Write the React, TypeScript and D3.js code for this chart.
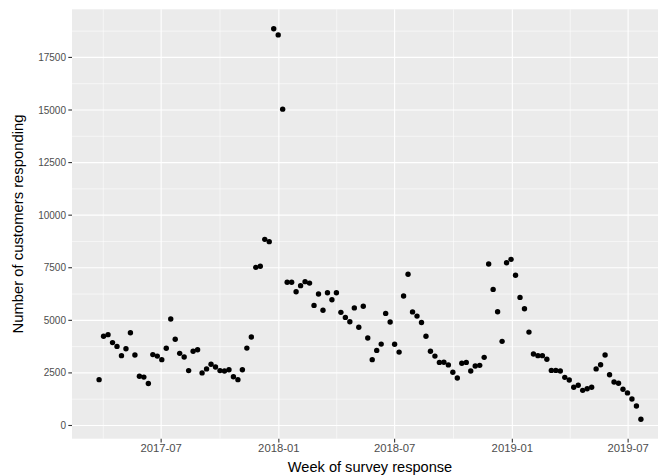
import React from "react";
import * as d3 from "d3";

const firstWeek = "2017-03-26";
const lastWeek = "2019-07-21";
const responses = [
  2180, 4240, 4320, 3940, 3760, 3320, 3650, 4410, 3350, 2340,
  2300, 2000, 3370, 3300, 3130, 3670, 5060, 4100, 3430, 3260,
  2610, 3530, 3600, 2500, 2690, 2910, 2780, 2610, 2590, 2650,
  2320, 2180, 2650, 3680, 4210, 7520, 7570, 8850, 8740, 18860,
  18570, 15040, 6810, 6810, 6360, 6650, 6840, 6770, 5710, 6250,
  5480, 6310, 5980, 6310, 5380, 5140, 4930, 5590, 4670, 5670,
  4160, 3130, 3570, 3870, 5330, 4920, 3860, 3490, 6160, 7190,
  5400, 5200, 4900, 4240, 3530, 3300, 3000, 3010, 2880, 2530,
  2260, 2960, 3000, 2590, 2830, 2860, 3240, 7680, 6470, 5410,
  4000, 7740, 7900, 7140, 6090, 5550, 4440, 3400, 3320, 3320,
  3150, 2620, 2620, 2590, 2290, 2160, 1820, 1910, 1670, 1750,
  1820, 2690, 2890, 3350, 2410, 2070, 2010, 1720, 1550, 1260,
  930, 300,
];
const xTickLabels = ["2017-07", "2018-01", "2018-07", "2019-01", "2019-07"];
const yTicks = [0, 2500, 5000, 7500, 10000, 12500, 15000, 17500];

const W = 658;
const H = 476;
const panel = { left: 72, right: 668, top: 9.3, bottom: 438.7 };
const FONT = "'Liberation Sans', Arial, Helvetica, sans-serif";

export default function App() {
  const parse = d3.utcParse("%Y-%m-%d");
  const start = parse(firstWeek)!;
  const end = parse(lastWeek)!;
  const weeks = d3.utcWeek.range(start, d3.utcDay.offset(end, 1));
  const data = weeks.map((d, i) => ({ date: d, value: responses[i] }));

  const span = end.getTime() - start.getTime();
  const x = d3
    .scaleUtc()
    .domain([new Date(start.getTime() - 0.05 * span), new Date(end.getTime() + 0.05 * span)])
    .range([panel.left, panel.right]);

  const [vmin, vmax] = d3.extent(responses) as [number, number];
  const vr = vmax - vmin;
  const y = d3
    .scaleLinear()
    .domain([vmin - 0.05 * vr, vmax + 0.05 * vr])
    .range([panel.bottom, panel.top]);

  const parseMonth = d3.utcParse("%Y-%m");
  const xTicks = xTickLabels.map((s) => parseMonth(s)!);
  const xMinor: Date[] = [];
  const allMajor = [d3.utcMonth.offset(xTicks[0], -6), ...xTicks, d3.utcMonth.offset(xTicks[xTicks.length - 1], 6)];
  for (let i = 0; i < allMajor.length - 1; i++) {
    const m = new Date((allMajor[i].getTime() + allMajor[i + 1].getTime()) / 2);
    const px = x(m);
    if (px > panel.left && px < panel.right) xMinor.push(m);
  }
  const yMinor: number[] = [];
  const step = yTicks[1] - yTicks[0];
  const [d0, d1] = y.domain();
  for (let v = yTicks[0] - step / 2; v <= d1; v += step) {
    if (v >= d0) yMinor.push(v);
  }
  const fmt = d3.utcFormat("%Y-%m");

  return (
    <svg
      width={W}
      height={H}
      style={{ position: "absolute", left: 0, top: 0, background: "#fff" }}
      fontFamily={FONT}
    >
      <rect
        x={panel.left}
        y={panel.top}
        width={panel.right - panel.left}
        height={panel.bottom - panel.top}
        fill="#EBEBEB"
      />
      {yMinor.map((v) => (
        <line key={"ym" + v} x1={panel.left} x2={panel.right} y1={y(v)} y2={y(v)} stroke="#fff" strokeWidth={0.55} />
      ))}
      {xMinor.map((d) => (
        <line key={"xm" + d.getTime()} x1={x(d)} x2={x(d)} y1={panel.top} y2={panel.bottom} stroke="#fff" strokeWidth={0.55} />
      ))}
      {yTicks.map((v) => (
        <line key={"yM" + v} x1={panel.left} x2={panel.right} y1={y(v)} y2={y(v)} stroke="#fff" strokeWidth={1.1} />
      ))}
      {xTicks.map((d) => (
        <line key={"xM" + d.getTime()} x1={x(d)} x2={x(d)} y1={panel.top} y2={panel.bottom} stroke="#fff" strokeWidth={1.1} />
      ))}
      {data.map((d, i) => (
        <circle key={i} cx={x(d.date)} cy={y(d.value)} r={2.7} fill="#000" />
      ))}
      {yTicks.map((v) => (
        <g key={"yt" + v}>
          <line x1={panel.left - 3.7} x2={panel.left} y1={y(v)} y2={y(v)} stroke="#333" strokeWidth={1.1} />
          <text x={panel.left - 6} y={y(v)} dy="0.35em" textAnchor="end" fontSize={10} fill="#4D4D4D">
            {v}
          </text>
        </g>
      ))}
      {xTicks.map((d) => (
        <g key={"xt" + d.getTime()}>
          <line x1={x(d)} x2={x(d)} y1={panel.bottom} y2={panel.bottom + 3.7} stroke="#333" strokeWidth={1.1} />
          <text x={x(d)} y={panel.bottom + 13} textAnchor="middle" fontSize={11.3} fill="#4D4D4D">
            {fmt(d)}
          </text>
        </g>
      ))}
      <text x={(panel.left + panel.right) / 2} y={471.5} textAnchor="middle" fontSize={14.6} fill="#000">
        Week of survey response
      </text>
      <text
        transform={`translate(23, ${(panel.top + panel.bottom) / 2}) rotate(-90)`}
        textAnchor="middle"
        fontSize={14.8}
        fill="#000"
      >
        Number of customers responding
      </text>
    </svg>
  );
}
